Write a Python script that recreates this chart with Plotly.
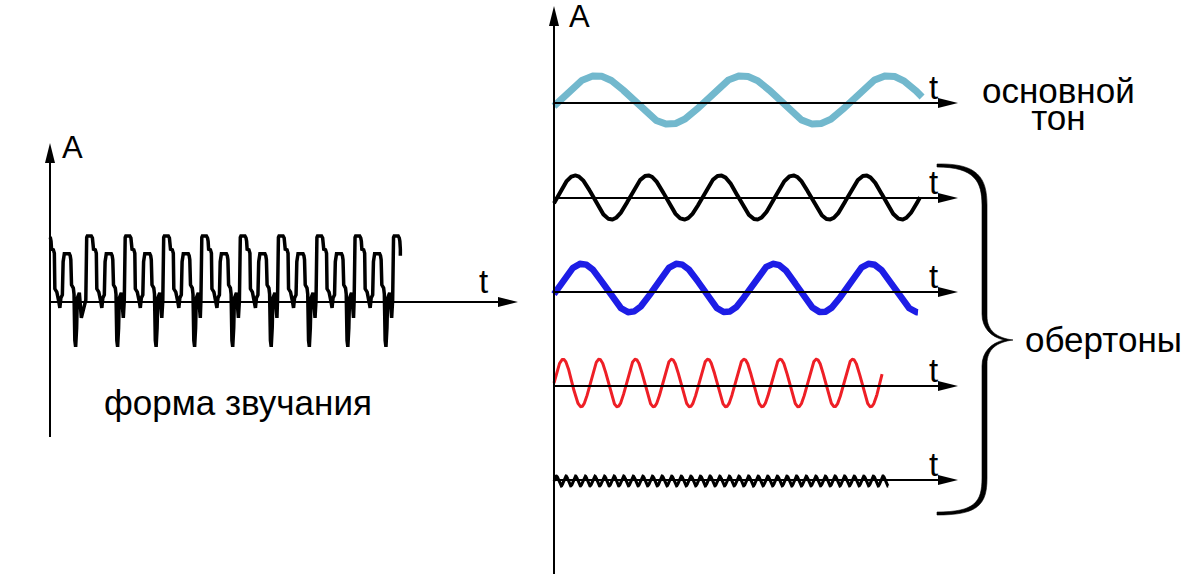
import numpy as np
import plotly.graph_objects as go

W, H = 1200, 574

# ---------------- data ----------------
# Composite sound waveform ("форма звучания"): one traced period,
# phase in fractions of a period, amplitude in relative units (tall peak = 1)
SOUND_PHASE = [0.000, 0.010, 0.023, 0.039, 0.143, 0.172, 0.187, 0.200, 0.247, 0.273,
               0.286, 0.338, 0.390, 0.416, 0.442, 0.481, 0.501, 0.515, 0.532, 0.662,
               0.685, 0.701, 0.719, 0.766, 0.784, 0.805, 0.826, 0.852, 0.870, 0.922,
               0.948, 0.974]
SOUND_AMP = [0.03, 0.91, 0.98, 1.00, 1.00, 0.97, 0.92, 0.80, 0.79, 0.74,
             0.20, 0.15, 0.00, -0.09, 0.06, 0.11, 0.61, 0.70, 0.73, 0.73,
             0.70, 0.64, 0.26, 0.21, 0.12, -0.58, -0.68, -0.39, 0.06, 0.14,
             0.00, -0.24]
# time (in periods) at which each period of the composite wave starts
SOUND_PERIOD_STARTS = [-0.16, 0.93, 1.93, 2.93, 3.92, 4.92, 5.91, 6.91, 7.90, 8.90]
SOUND_END_T = 9.10
SOUND_END_AMP = 0.70

# Harmonic components (time in periods of the fundamental, amplitude in relative units)
HARM_LABELS = ["основной тон", "обертон 1", "обертон 2", "обертон 3", "обертон 4"]
HARM_PERIOD = [1.000, 0.497, 0.658, 0.248, 0.0658]
HARM_AMP = [0.99, 0.90, 0.99, 0.97, 0.20]
HARM_T0 = [0.041, 0.021, 0.027, 0.000, 0.000]     # upward zero crossing
HARM_T_END = [2.521, 2.507, 2.493, 2.247, 2.288]

TEXT_LEFT_CAPTION = "форма звучания"
TEXT_FUND = ["основной", "тон"]
TEXT_OVERTONES = "обертоны"
AXIS_A = "A"
AXIS_T = "t"

# ---------------- layout geometry (pixels) ----------------
FONT = "Liberation Sans, Arial, sans-serif"
L_ORIGIN = (50, 302)       # left panel origin
L_TOP = 143
L_BOTTOM = 437
L_RIGHT = 518
L_TSCALE = 38.5            # px per period
L_ASCALE = 66.0            # px per amplitude unit

R_X = 554
R_TOP = 6
R_TSCALE = 146.0
R_ASCALE = 24.5
R_CENTERS = [100, 197.5, 288, 383, 481]
R_AXES = [103, 198, 292, 386, 480]
R_ARROW_TIP = 958

HARM_COLOR = ["#72b8cd", "#000000", "#1d1de6", "#ee1f26", "#000000"]
HARM_WIDTH = [7, 4, 6.5, 3, 3]

fig = go.Figure()

# ---------- axes definitions ----------
def xrange(origin, scale):
    return [(0 - origin) / scale, (W - origin) / scale]

def yrange(origin_row, scale):
    return [(origin_row - H) / scale, origin_row / scale]

hidden = dict(visible=False, showgrid=False, zeroline=False, fixedrange=True)
layout_axes = {}
layout_axes["xaxis"] = dict(range=[0, W], domain=[0, 1], **hidden)
layout_axes["yaxis"] = dict(range=[H, 0], domain=[0, 1], **hidden)
layout_axes["xaxis2"] = dict(range=xrange(L_ORIGIN[0], L_TSCALE), overlaying="x", anchor="y2", **hidden)
layout_axes["yaxis2"] = dict(range=yrange(L_ORIGIN[1], L_ASCALE), overlaying="y", anchor="x2", **hidden)
layout_axes["xaxis3"] = dict(range=xrange(R_X, R_TSCALE), overlaying="x", anchor="y3", **hidden)
for i, c in enumerate(R_CENTERS):
    layout_axes[f"yaxis{3 + i}"] = dict(range=yrange(c, R_ASCALE), overlaying="y", anchor="x3", **hidden)

# ---------- composite waveform ----------
ts, amps = [], []
for s in SOUND_PERIOD_STARTS:
    for p, a in zip(SOUND_PHASE, SOUND_AMP):
        t = s + p
        if 0 <= t <= SOUND_END_T:
            ts.append(t)
            amps.append(a)
first = SOUND_PERIOD_STARTS[0]
a0 = float(np.interp(-first, SOUND_PHASE, SOUND_AMP))
ts = [0.0] + ts + [SOUND_END_T]
amps = [a0] + amps + [SOUND_END_AMP]
fig.add_trace(go.Scatter(x=ts, y=amps, mode="lines", xaxis="x2", yaxis="y2",
                         line=dict(color="black", width=3.5), hoverinfo="skip", showlegend=False))

# ---------- harmonics ----------
for i in range(len(HARM_PERIOD)):
    t = np.linspace(0, HARM_T_END[i], 1500)
    y = HARM_AMP[i] * np.sin(2 * np.pi * (t - HARM_T0[i]) / HARM_PERIOD[i])
    fig.add_trace(go.Scatter(x=t, y=y, mode="lines", xaxis="x3", yaxis=f"y{3 + i}",
                             name=HARM_LABELS[i],
                             line=dict(color=HARM_COLOR[i], width=HARM_WIDTH[i]),
                             hoverinfo="skip", showlegend=False))

# ---------- axes lines and arrows ----------
shapes = []
AX_W = 2
AH_LEN, AH_HALF = 20, 5

def hline_arrow(x0, x1, y):
    shapes.append(dict(type="line", xref="x", yref="y", x0=x0, x1=x1 - AH_LEN + 2, y0=y, y1=y,
                       line=dict(color="black", width=AX_W)))
    shapes.append(dict(type="path", xref="x", yref="y",
                       path=f"M{x1},{y} L{x1 - AH_LEN},{y - AH_HALF} L{x1 - AH_LEN},{y + AH_HALF} Z",
                       fillcolor="black", line=dict(width=0)))

def vline_arrow(x, y0, y1):
    shapes.append(dict(type="line", xref="x", yref="y", x0=x, x1=x, y0=y0, y1=y1 + AH_LEN - 2,
                       line=dict(color="black", width=AX_W)))
    shapes.append(dict(type="path", xref="x", yref="y",
                       path=f"M{x},{y1} L{x - AH_HALF},{y1 + AH_LEN} L{x + AH_HALF},{y1 + AH_LEN} Z",
                       fillcolor="black", line=dict(width=0)))

vline_arrow(L_ORIGIN[0], L_BOTTOM, L_TOP)
hline_arrow(L_ORIGIN[0], L_RIGHT, L_ORIGIN[1])
vline_arrow(R_X, H + 2, R_TOP)
for ya in R_AXES:
    hline_arrow(R_X, R_ARROW_TIP, ya)

# brace
brace = ("M937,164 C978,163 987,178 987,205 L987,316 C987,331 997,338 1013,340 "
         "C997,342 987,349 987,364 L987,478 C987,505 978,515 937,515 L937,512 "
         "C975,512 982,502 982,478 L982,366 C982,352 991,343 1004,340 "
         "C991,337 982,328 982,314 L982,205 C982,182 975,167 937,167 Z")
shapes.append(dict(type="path", xref="x", yref="y", path=brace,
                   fillcolor="black", line=dict(color="black", width=0.6)))

# ---------- text ----------
ann = []
def text(x, y, s, size, base=None):
    ann.append(dict(x=x, y=y, xref="x", yref="y", text=s, showarrow=False,
                    xanchor="center", yanchor="middle", align="center",
                    font=dict(family=FONT, size=base or size, color="black")))

text(72, 147, AXIS_A, 31)
text(579, 16, AXIS_A, 31)
text(483, 281, AXIS_T, 33)
for ya in R_AXES:
    text(933, ya - 16, AXIS_T, 33)
text(238, 402, TEXT_LEFT_CAPTION, 35)
# two tightly spaced lines: base font sets the line spacing, inner spans the glyph size
fund = "<br>".join(f"<span style='font-size:35px'>{s}</span>" for s in TEXT_FUND)
text(1058, 104, fund, 35, base=20.5)
text(1103, 339, TEXT_OVERTONES, 35)

fig.update_layout(width=W, height=H, margin=dict(l=0, r=0, t=0, b=0), autosize=False,
                  paper_bgcolor="white", plot_bgcolor="white",
                  shapes=shapes, annotations=ann, showlegend=False, **layout_axes)

fig.write_html("out.html", config={"displayModeBar": False, "staticPlot": True},
               post_script="document.body.style.margin='0';document.body.style.overflow='hidden';")
